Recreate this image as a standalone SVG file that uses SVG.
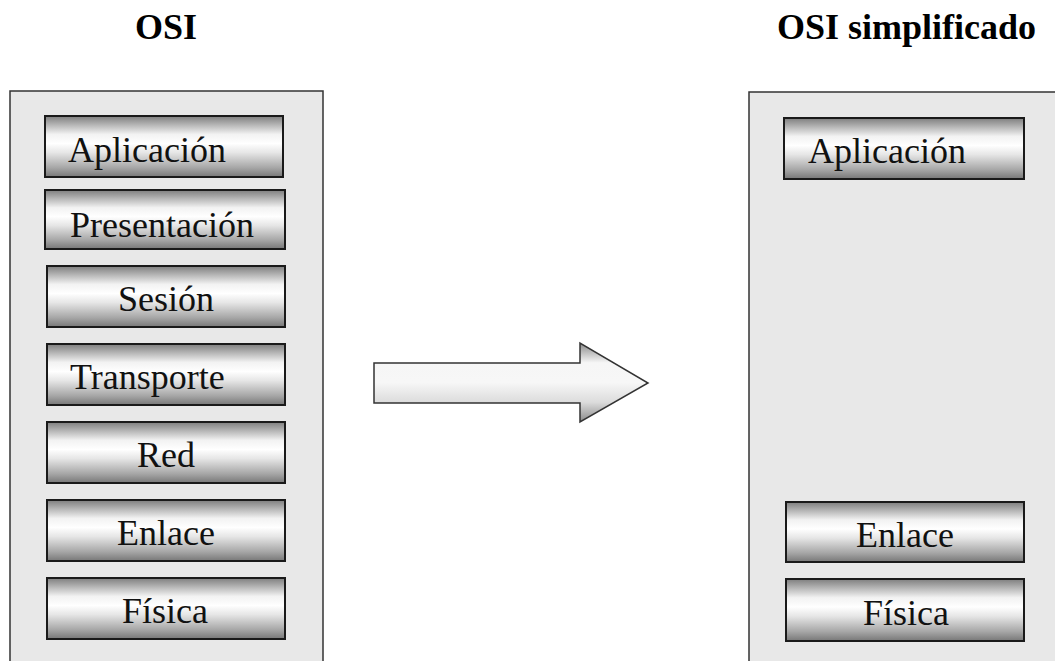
<svg xmlns="http://www.w3.org/2000/svg" width="1055" height="661" viewBox="0 0 1055 661">
  <defs>
    <!-- metallic bar fill for each layer -->
    <linearGradient id="bar" x1="0" y1="0" x2="0" y2="1">
      <stop offset="0" stop-color="#7e7e7e"/>
      <stop offset="0.1" stop-color="#a4a4a4"/>
      <stop offset="0.3" stop-color="#f2f2f2"/>
      <stop offset="0.45" stop-color="#ffffff"/>
      <stop offset="0.6" stop-color="#e6e6e6"/>
      <stop offset="0.85" stop-color="#a6a6a6"/>
      <stop offset="1" stop-color="#777777"/>
    </linearGradient>
    <!-- block arrow shading -->
    <linearGradient id="arrowFill" gradientUnits="userSpaceOnUse" x1="0" y1="343" x2="0" y2="422">
      <stop offset="0" stop-color="#8a8a8a"/>
      <stop offset="0.25" stop-color="#f6f6f6"/>
      <stop offset="0.5" stop-color="#f7f7f7"/>
      <stop offset="0.75" stop-color="#dcdcdc"/>
      <stop offset="1" stop-color="#8a8a8a"/>
    </linearGradient>
  </defs>
  <style>
    .panel { fill: #e8e8e8; stroke: #333333; stroke-width: 1.5; }
    .layer { fill: url(#bar); stroke: #1a1a1a; stroke-width: 2; }
    .label { font-family: "Liberation Serif", "Times New Roman", serif; font-size: 36px; fill: #111111; }
    .title { font-family: "Liberation Serif", "Times New Roman", serif; font-size: 36px; font-weight: bold; fill: #000000; }
    .arrow { fill: url(#arrowFill); stroke: #333333; stroke-width: 1.5; stroke-linejoin: miter; }
  </style>

  <rect width="1055" height="661" fill="#ffffff"/>

  <!-- headings -->
  <text class="title" x="135" y="39">OSI</text>
  <text class="title" x="777" y="39">OSI simplificado</text>

  <!-- full seven-layer stack -->
  <g id="osi">
    <rect class="panel" x="10" y="91" width="313" height="575"/>
    <g id="osi-aplicacion">
      <rect class="layer" x="45" y="116" width="238" height="61"/>
      <text class="label" x="68" y="162">Aplicación</text>
    </g>
    <g id="osi-presentacion">
      <rect class="layer" x="45" y="190" width="240" height="59"/>
      <text class="label" x="70" y="237">Presentación</text>
    </g>
    <g id="osi-sesion">
      <rect class="layer" x="47" y="266" width="238" height="61"/>
      <text class="label" x="118" y="311">Sesión</text>
    </g>
    <g id="osi-transporte">
      <rect class="layer" x="47" y="344" width="238" height="61"/>
      <text class="label" x="70" y="389">Transporte</text>
    </g>
    <g id="osi-red">
      <rect class="layer" x="47" y="422" width="238" height="61"/>
      <text class="label" x="137" y="467">Red</text>
    </g>
    <g id="osi-enlace">
      <rect class="layer" x="47" y="500" width="238" height="61"/>
      <text class="label" x="117" y="545">Enlace</text>
    </g>
    <g id="osi-fisica">
      <rect class="layer" x="47" y="578" width="238" height="61"/>
      <text class="label" x="122" y="623">Física</text>
    </g>
  </g>

  <!-- transformation arrow -->
  <g id="connectors">
    <polygon class="arrow" points="374,363 580,363 580,343 648,383 580,422 580,403 374,403"/>
  </g>

  <!-- simplified three-layer stack -->
  <g id="osi-simplificado">
    <rect class="panel" x="749" y="92" width="320" height="575"/>
    <g id="simp-aplicacion">
      <rect class="layer" x="784" y="118" width="240" height="61"/>
      <text class="label" x="808" y="163">Aplicación</text>
    </g>
    <g id="simp-enlace">
      <rect class="layer" x="786" y="502" width="238" height="60"/>
      <text class="label" x="856" y="547">Enlace</text>
    </g>
    <g id="simp-fisica">
      <rect class="layer" x="786" y="579" width="238" height="62"/>
      <text class="label" x="863" y="625">Física</text>
    </g>
  </g>
</svg>
